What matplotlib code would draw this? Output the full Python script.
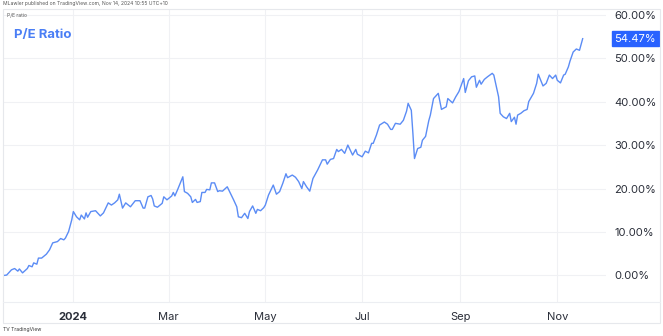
import matplotlib.pyplot as plt
import matplotlib.dates as mdates
import numpy as np
import pandas as pd
from matplotlib.patches import Rectangle

# P/E ratio readings, days counted from 2024-01-01
days = [-44, -42, -39, -37, -35, -34, -32, -29, -28, -26, -25, -23, -22, -20, -17, -15,
        -13, -10, -8, -6, -5, -3, -1, 0, 2, 4, 5, 7, 8, 9, 11, 14, 17, 19, 22, 24, 26,
        28, 29, 31, 33, 36, 39, 42, 44, 45, 47, 49, 50, 51, 53, 56, 57, 59, 62, 63, 64,
        66, 69, 70, 72, 74, 75, 77, 78, 80, 81, 83, 84, 86, 87, 89, 91, 92, 94, 97, 99,
        101, 103, 104, 106, 108, 110, 111, 113, 115, 116, 118, 120, 121, 123, 126, 128,
        130, 132, 134, 135, 138, 140, 142, 144, 145, 147, 149, 151, 154, 157, 159, 160,
        162, 164, 166, 167, 169, 171, 173, 176, 178, 179, 182, 184, 186, 188, 189, 191,
        193, 196, 198, 200, 201, 203, 206, 208, 210, 211, 213, 214, 215, 217, 219, 220,
        222, 224, 225, 227, 230, 232, 235, 236, 239, 241, 243, 246, 247, 249, 251, 253,
        254, 256, 257, 259, 261, 264, 265, 268, 269, 271, 273, 275, 276, 278, 279, 280,
        282, 284, 286, 287, 290, 292, 293, 296, 298, 300, 302, 304, 305, 307, 309, 310,
        312, 313, 315, 317, 319, 321]
pe = [0.0, 0.1, 1.3, 1.6, 1.0, 1.5, 0.6, 1.6, 2.3, 2.0, 2.9, 2.6, 4.0, 4.0, 4.9, 5.9,
      7.5, 7.8, 8.5, 8.2, 8.6, 10.1, 12.8, 14.7, 13.5, 12.8, 13.9, 13.0, 14.4, 13.4, 14.7,
      14.9, 13.7, 14.4, 16.7, 16.2, 16.7, 17.4, 18.7, 15.5, 16.7, 15.8, 17.2, 17.2, 15.5,
      15.5, 18.1, 18.4, 17.6, 16.0, 15.7, 16.6, 18.1, 17.4, 18.3, 19.1, 18.3, 20.0, 22.7,
      19.3, 18.9, 18.1, 16.8, 17.5, 16.8, 17.0, 19.1, 19.1, 19.8, 19.7, 21.3, 21.3, 19.3,
      19.5, 19.4, 20.4, 18.9, 17.4, 15.8, 13.5, 13.3, 14.3, 13.1, 14.7, 16.0, 14.3, 15.2,
      14.9, 15.6, 16.2, 18.5, 20.8, 18.7, 19.3, 21.2, 23.4, 22.5, 23.1, 22.6, 21.6, 20.0,
      21.6, 20.4, 19.4, 22.3, 24.3, 26.6, 26.6, 25.6, 26.7, 26.9, 29.0, 28.5, 29.0, 28.1,
      30.0, 27.7, 29.0, 27.9, 27.3, 28.6, 28.2, 30.4, 30.4, 32.3, 34.6, 35.3, 34.8, 33.6,
      33.6, 35.0, 34.8, 35.7, 37.8, 39.6, 38.0, 32.7, 26.9, 29.2, 29.5, 31.1, 32.0, 35.6,
      36.9, 40.7, 41.9, 38.2, 38.8, 40.7, 39.7, 41.1, 42.3, 45.3, 42.1, 44.8, 45.7, 45.9,
      43.3, 44.9, 44.0, 45.1, 45.7, 46.5, 46.1, 41.1, 37.3, 36.5, 36.1, 37.3, 35.4, 36.4,
      34.8, 36.9, 37.3, 37.9, 38.2, 40.0, 41.9, 44.2, 46.3, 43.6, 44.2, 46.1, 45.3, 46.1,
      44.9, 44.3, 46.1, 46.3, 48.0, 49.3, 51.4, 52.1, 51.8, 54.47]

month_ticks = ["2024-01-01", "2024-03-01", "2024-05-01", "2024-07-01", "2024-09-01", "2024-11-01"]
month_labels = ["2024", "Mar", "May", "Jul", "Sep", "Nov"]
y_ticks = [0, 10, 20, 30, 40, 50, 60]

dates = pd.Timestamp("2024-01-01") + pd.to_timedelta(days, unit="D")
last_val = pe[-1]

blue = "#2962ff"
line_c = "#5b8cf5"
grid_c = "#f0f1f4"
text_c = "#2a2e39"
font = "Inter"

W, H = 663, 336
fig = plt.figure(figsize=(W / 100, H / 100), dpi=100)
fig.patch.set_facecolor("white")

# outer frame + time axis separator
fig.add_artist(Rectangle((3 / W, 1 - 323 / H), 657 / W, 314 / H, transform=fig.transFigure,
                         fill=False, edgecolor="#e6e8ec", lw=0.8))
fig.add_artist(plt.Line2D([3 / W, 660 / W], [1 - 302 / H, 1 - 302 / H], transform=fig.transFigure,
                          color="#eceef2", lw=0.8))

ax = fig.add_axes([4 / W, 1 - 302 / H, 602 / W, 293 / H])
ax.plot(dates, pe, color=line_c, lw=1.0, solid_joinstyle="round")

ax.set_xlim(pd.Timestamp("2024-01-01") + pd.Timedelta(days=-43.7),
            pd.Timestamp("2024-01-01") + pd.Timedelta(days=335.7))
ax.set_ylim(-6.1, 61.3)

ax.set_xticks(pd.to_datetime(month_ticks))
ax.set_xticklabels(month_labels)
ax.set_yticks(y_ticks)
ax.yaxis.tick_right()
ax.set_yticklabels([f"{v:.2f}%" for v in y_ticks])
ax.tick_params(axis="both", length=0, labelsize=8, labelcolor=text_c)
ax.tick_params(axis="y", pad=6)
ax.tick_params(axis="x", pad=7)
for lbl in ax.get_xticklabels() + ax.get_yticklabels():
    lbl.set_fontfamily(font)
ax.get_xticklabels()[0].set_fontweight("bold")
ax.grid(True, color=grid_c, lw=0.8)
for s in ax.spines.values():
    s.set_visible(False)

# last value tag
ax.annotate(f"{last_val:.2f}%", xy=(1.0, last_val), xycoords=("axes fraction", "data"),
            xytext=(6, 0), textcoords="offset points", ha="left", va="center",
            fontsize=8, color="white", family=font,
            bbox=dict(boxstyle="square,pad=0.25", fc=blue, ec=blue))

# texts
fig.text(3 / W, 1 - 4 / H, "MLawler published on TradingView.com, Nov 14, 2024 10:55 UTC+10",
         fontsize=3.6, color="#555", family=font, va="center", ha="left")
ax.text(7 / W, 1 - 15 / H, "P/E ratio", transform=fig.transFigure, fontsize=3.6, color="#555",
        family=font, va="center", ha="left")
fig.text(14 / W, 1 - 35 / H, "P/E Ratio", fontsize=9.5, color="#4a7ef5", fontweight="bold",
         family=font, va="center", ha="left")
fig.text(3 / W, 1 - 330 / H, "TV TradingView", fontsize=3.6, color="#333", family=font,
         va="center", ha="left")

fig.savefig("out.png", dpi=100, facecolor="white")
